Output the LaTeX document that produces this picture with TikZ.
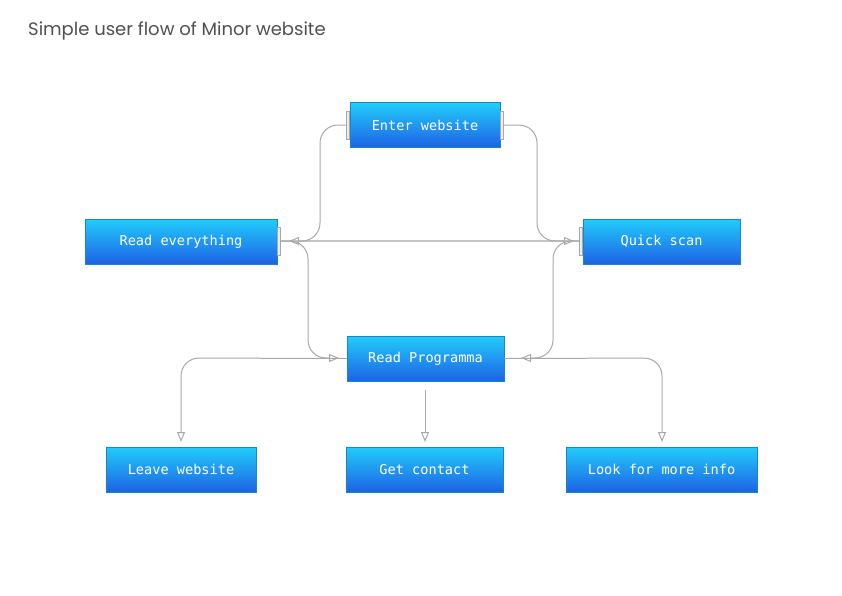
\documentclass[tikz,border=0pt]{standalone}
\usepackage{fontspec}
\setmainfont{Poppins}
\newfontfamily\boxfont{DejaVu Sans Mono}
\usetikzlibrary{arrows.meta}
\definecolor{topblue}{HTML}{22CCFA}
\definecolor{botblue}{HTML}{1E62E6}
\definecolor{edgeblue}{HTML}{1688C0}
\definecolor{linegray}{HTML}{A8A8A8}
\definecolor{lightline}{HTML}{C4C4C4}
\definecolor{titlegray}{HTML}{505050}
\tikzset{
  flowbox/.style={draw=edgeblue, line width=0.6pt, top color=topblue, bottom color=botblue,
    minimum height=45pt, inner sep=0pt, text=white, font=\boxfont\fontsize{13.6}{15}\selectfont},
  endbar/.style={draw=linegray, fill=white!85!gray, line width=0.6pt, minimum width=2.5pt, minimum height=28pt, inner sep=0pt},
  flow/.style={draw=linegray, line width=1pt, rounded corners=18pt},
  tip/.style={-{Triangle[open, length=10pt, width=8pt]}},
}
\begin{document}
\begin{tikzpicture}[x=1pt, y=-1pt]
\useasboundingbox[fill=white] (0,0) rectangle (842,595);
\node[anchor=west, inner sep=0pt, text=titlegray, font=\fontsize{18}{21}\selectfont] (title) at (28,31) {Simple user flow of Minor website};

\node[flowbox, minimum width=150pt] (enter) at (425,125) {Enter website};
\node[flowbox, minimum width=192pt] (readall) at (181,241.5) {Read everything};
\node[flowbox, minimum width=157pt] (quick) at (661.5,241.5) {Quick scan};
\node[flowbox, minimum width=157pt] (prog) at (425.5,358.5) {Read Programma};
\node[flowbox, minimum width=150pt] (leave) at (181,469.5) {Leave website};
\node[flowbox, minimum width=157pt] (contact) at (424.5,469.5) {Get contact};
\node[flowbox, minimum width=191pt] (more) at (661.5,469.5) {Look for more info};

% end bars
\node[endbar] (enterL) at (348,125) {};
\node[endbar] (enterR) at (502,125) {};
\node[endbar] (readR) at (279,241) {};
\node[endbar] (quickL) at (581,241) {};

% arrow targets
\coordinate (tRead) at (289,241);
\coordinate (tQuick) at (574,241);
\coordinate (tProgL) at (339,358);
\coordinate (tProgR) at (521,358);
\coordinate (tLeave) at (181,442);
\coordinate (tContact) at (425,442);
\coordinate (tMore) at (662,442);
\coordinate (sContact) at (425,390);

% straight link between the two reading modes
\draw[draw=lightline, line width=1.1pt] (readR.center) -- (quickL.center);

\draw[flow, tip] (enterL.center) -- (320,125) -- (320,241) -- (tRead);
\draw[flow, tip] (enterR.center) -- (537,125) -- (537,241) -- (tQuick);
\draw[flow, tip] (readR.center) -- (308,241) -- (308,358) -- (tProgL);
\draw[flow, tip] (quickL.center) -- (553,241) -- (553,358) -- (tProgR);
\draw[flow, tip] (prog.west) -- (181,358) -- (tLeave);
\draw[flow, tip] (prog.east) -- (662,358) -- (tMore);
\draw[flow, tip] (sContact) -- (tContact);

% redraw bars on top
\node[endbar] at (enterL) {};
\node[endbar] at (enterR) {};
\node[endbar] at (readR) {};
\node[endbar] at (quickL) {};
\end{tikzpicture}
\end{document}
